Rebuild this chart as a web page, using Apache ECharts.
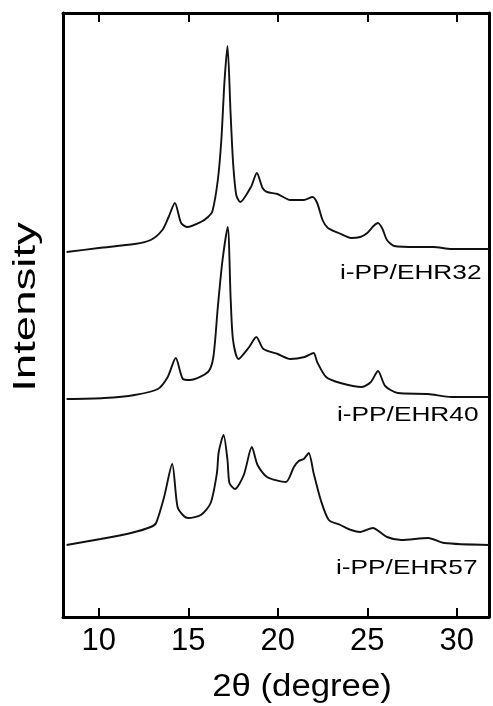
<!DOCTYPE html>
<html>
<head>
<meta charset="utf-8">
<script src="https://cdn.jsdelivr.net/npm/echarts@6/dist/echarts.min.js"></script>
<style>
  html, body { margin: 0; padding: 0; background: #fff; }
  #chart { width: 493px; height: 706px; }
</style>
</head>
<body>
<div id="chart"></div>
<script>
// WAXD patterns of i-PP/EHR blends, stacked with vertical offsets (arb. units)
const xTicks = [10, 15, 20, 25, 30];

const sampleNames = ['i-PP/EHR32', 'i-PP/EHR40', 'i-PP/EHR57'];

// [2θ (deg), offset intensity]
const ehr32 = [
  [8.2, 365], [10, 369], [12, 373], [12.9, 377], [13.55, 387], [13.9, 400],
  [14.25, 414], [14.6, 394], [14.95, 390], [15.7, 395], [16.1, 400], [16.35, 406],
  [16.65, 437], [16.85, 478], [17.02, 535], [17.19, 571], [17.36, 505], [17.5, 455],
  [17.68, 422], [17.9, 415], [18.5, 430], [18.83, 444], [19.15, 429], [19.4, 425],
  [19.98, 423], [20.7, 417], [21.45, 417], [21.94, 420], [22.2, 414], [22.5, 397],
  [22.8, 389], [23.4, 384], [24.1, 379], [24.6, 380], [25.0, 384], [25.35, 391],
  [25.6, 394], [25.85, 388], [26.1, 377], [26.5, 371], [27.8, 370], [28.7, 370],
  [29.7, 368], [31.8, 368]
];

const ehr40 = [
  [8.2, 218], [10.3, 219], [12, 222], [13.3, 228], [13.85, 240], [14.3, 259],
  [14.7, 238], [15.1, 237], [16.1, 245], [16.4, 260], [16.65, 310], [16.9, 355],
  [17.2, 390], [17.37, 317], [17.5, 277], [17.8, 258], [18.4, 270], [18.8, 280],
  [19.2, 268], [20.0, 263], [20.7, 258], [21.5, 260], [22.0, 264], [22.2, 255],
  [22.7, 240], [23.5, 234], [24.7, 230], [25.2, 235], [25.6, 246], [26.0, 231],
  [26.7, 224], [28.4, 223], [29.7, 220], [31.8, 220]
];

const ehr57 = [
  [8.2, 72], [10.1, 78], [11.8, 84], [12.9, 90], [13.2, 94], [13.65, 120],
  [14.1, 153], [14.4, 110], [14.75, 101], [15.0, 99], [15.7, 102], [16.25, 114],
  [16.6, 144], [16.7, 165], [16.97, 182], [17.19, 157], [17.3, 134], [17.6, 128],
  [18.1, 142], [18.55, 170], [18.87, 152], [19.4, 140], [20.45, 135], [20.9, 150],
  [21.17, 156], [21.45, 158], [21.73, 164], [22.0, 144], [22.4, 117], [22.85, 97],
  [23.5, 92], [24.1, 87], [24.6, 85], [25.3, 89], [26.1, 80], [26.9, 77],
  [28.4, 79], [29.3, 74], [31.8, 72]
];

const curves = [ehr32, ehr40, ehr57];

const FONT = "'Liberation Sans', Arial, Helvetica, sans-serif";

const chart = echarts.init(document.getElementById('chart'));

const tickAxis = (pos, showLabels) => ({
  type: 'value',
  position: pos,
  min: 8,
  max: 31.8,
  axisLine: { show: true, onZero: false, lineStyle: { color: '#000', width: 3 } },
  axisTick: {
    show: true, inside: true, length: 9, customValues: xTicks,
    lineStyle: { color: '#000', width: 2 }
  },
  axisLabel: {
    show: showLabels, customValues: xTicks, margin: 9,
    color: '#000', fontSize: 31, fontFamily: FONT
  },
  splitLine: { show: false }
});

const frameAxis = (pos) => ({
  type: 'value',
  position: pos,
  min: 0,
  max: 604,
  axisLine: { show: true, onZero: false, lineStyle: { color: '#000', width: 3 } },
  axisTick: { show: false },
  axisLabel: { show: false },
  splitLine: { show: false }
});

const labelPos = [[340, 273], [337, 415], [336, 568]];

chart.setOption({
  animation: false,
  backgroundColor: '#fff',
  grid: { left: 63, right: 4, top: 13, bottom: 89, outerBoundsMode: 'none' },
  xAxis: [tickAxis('bottom', true), tickAxis('top', false)],
  yAxis: [frameAxis('left'), frameAxis('right')],
  series: curves.map((d, i) => ({
    name: sampleNames[i],
    type: 'line',
    data: d,
    smooth: 0.25,
    showSymbol: false,
    lineStyle: { color: '#111', width: 1.9 }
  })),
  graphic: [
    {
      type: 'text', x: 26, y: 307, rotation: Math.PI / 2, scaleX: 1.47,
      style: {
        text: 'Intensity', font: '31px ' + FONT, fill: '#000',
        textAlign: 'center', textVerticalAlign: 'middle'
      }
    },
    {
      type: 'text', x: 302, y: 687, scaleX: 1.12,
      style: {
        text: '2θ (degree)', font: '31px ' + FONT, fill: '#000',
        textAlign: 'center', textVerticalAlign: 'middle'
      }
    }
  ].concat(sampleNames.map((n, i) => ({
    type: 'text', x: labelPos[i][0], y: labelPos[i][1], scaleX: 1.25,
    style: {
      text: n, font: '21px ' + FONT, fill: '#000',
      textAlign: 'left', textVerticalAlign: 'middle'
    }
  })))
});
</script>
</body>
</html>
